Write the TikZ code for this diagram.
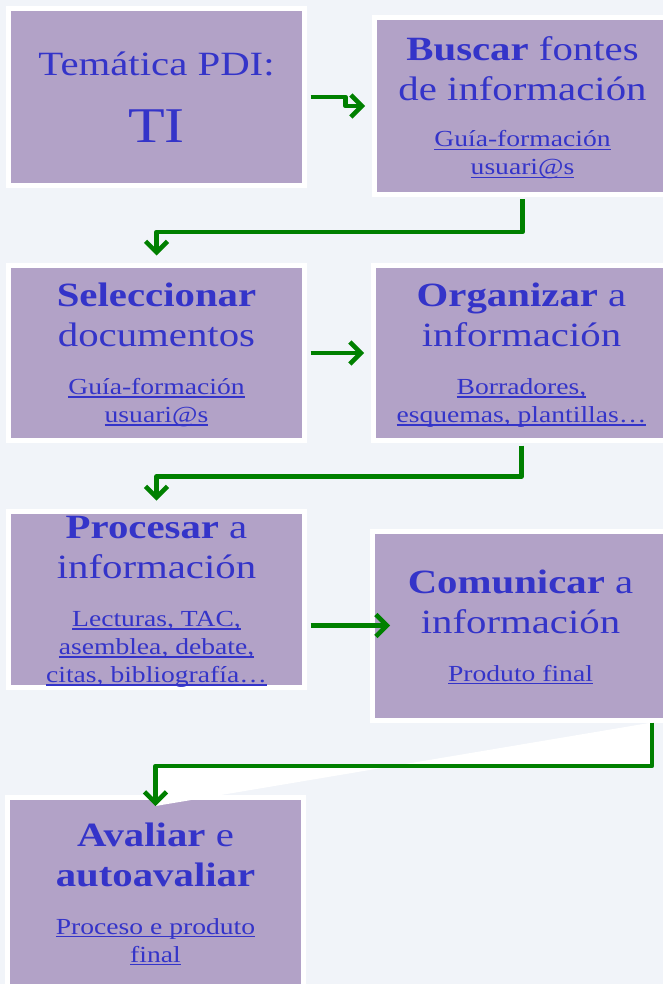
\documentclass[tikz,border=0pt]{standalone}
\usepackage{fontspec}
\setmainfont{Liberation Serif}[FakeStretch=1.2]
\usetikzlibrary{arrows.meta}
\definecolor{fondo}{HTML}{F1F4F9}
\definecolor{malva}{HTML}{B2A2C7}
\definecolor{azul}{HTML}{3434C9}
\definecolor{verde}{HTML}{008000}
\newcommand{\lnk}[1]{\setbox0\hbox{#1}\rlap{\rule[-0.14em]{\wd0}{0.06em}}\box0}
\newcommand{\mainf}{\fontsize{34}{40}\selectfont}
\newcommand{\subf}{\fontsize{23}{28}\selectfont}
\newcommand{\notas}[1]{{\subf\raisebox{0pt}[\height][\dimexpr\depth-8pt\relax]{\begin{tabular}[t]{@{}c@{}}#1\end{tabular}}}}

\begin{document}
\begin{tikzpicture}[
       x=1pt,y=-1pt,
       paso/.style={
         draw=white,
         line width=5pt,
         fill=malva,
         text=azul,
         align=center,
         inner sep=0pt,
         minimum width=296pt,
         minimum height=177pt,
         font=\mainf
       },
       frecha/.style={
         draw=verde,
         line width=4.5pt,
         line join=round,
         -{Straight Barb[length=11pt,width=22pt]}
       }
     ]
\clip (0,0) rectangle (663,984);
\fill[fondo] (0,0) rectangle (663,984);

\node[paso] (tema) at (156.5,97) {Temática PDI:\\[27pt]{\fontsize{50}{54}\selectfont TI}};
\node[paso] (buscar) at (522.5,106) {\textbf{Buscar} fontes\\de información\\[6pt]\notas{\lnk{Guía-formación}\\\lnk{usuari@s}}};
\node[paso,minimum height=175pt] (selec) at (156.5,353) {\textbf{Seleccionar}\\documentos\\[8pt]\notas{\lnk{Guía-formación}\\\lnk{usuari@s}}};
\node[paso,minimum height=175pt] (organ) at (521.5,353) {\textbf{Organizar} a\\información\\[8pt]\notas{\lnk{Borradores,}\\\lnk{esquemas, plantillas…}}};
\node[paso,minimum height=176pt] (proc) at (156.5,599.5) {\textbf{Procesar} a\\información\\[8pt]\notas{\lnk{Lecturas, TAC,}\\\lnk{asemblea, debate,}\\\lnk{citas, bibliografía…}}};
\node[paso,minimum height=189pt] (comun) at (520.5,625.5) {\textbf{Comunicar} a\\información\\[8pt]\notas{\lnk{Produto final}}};
\node[paso,minimum height=190pt] (aval) at (155.5,892.5) {\textbf{Avaliar} e\\\textbf{autoavaliar}\\[8pt]\notas{\lnk{Proceso e produto}\\\lnk{final}}};

\coordinate (codo) at (652,766);
\fill[white] (comun.south -| codo) -- (codo) -| ([yshift=-11pt]aval.north) -- cycle;

\draw[frecha,shorten <=3.5pt,shorten >=7pt] (tema.east) -- ++(38.5,0) |- (buscar.west);
\draw[frecha,shorten <=2.5pt,shorten >=7.5pt] (buscar.south) -- ++(0,35) -| (selec.north);
\draw[frecha,shorten <=3.5pt,shorten >=7pt] (selec.east) -- (organ.west);
\draw[frecha,shorten <=2.5pt,shorten >=8.5pt] (organ.south) -- ++(0,33.5) -| (proc.north);
\draw[frecha,shorten <=3.5pt,shorten >=-20pt] (comun.west -| proc.east) -- (comun.west);
\draw[frecha,shorten >=-11pt] (comun.south -| codo) -- (codo) -| (aval.north);

\end{tikzpicture}
\end{document}
